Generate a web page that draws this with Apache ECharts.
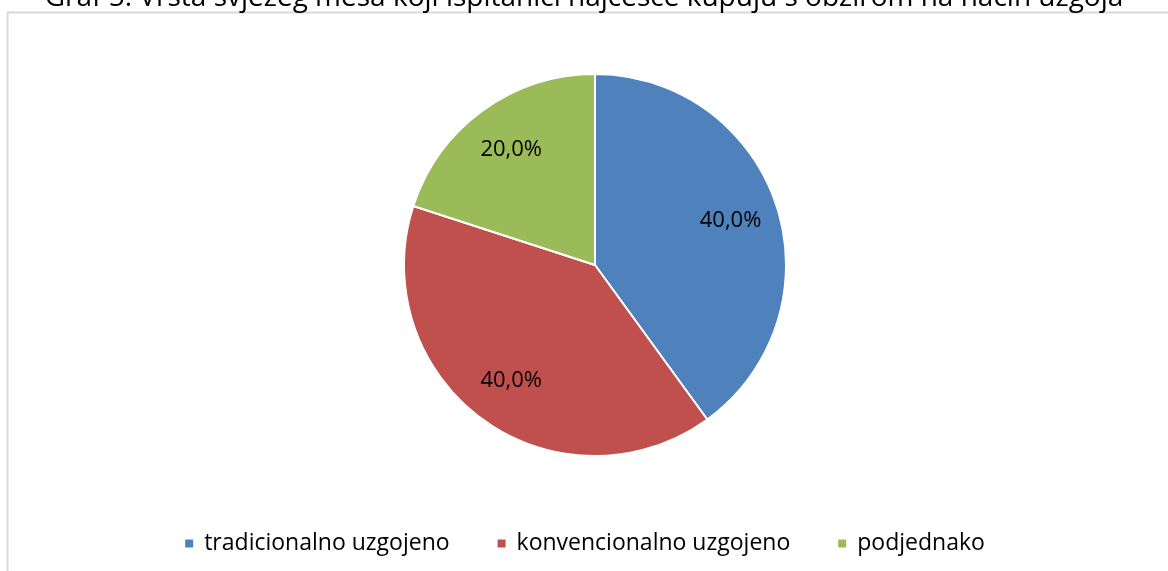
<!DOCTYPE html>
<html>
<head>
<meta charset="utf-8">
<title>Graf 5</title>
<script src="https://cdn.jsdelivr.net/npm/echarts@6/dist/echarts.min.js"></script>
<style>
  html, body { margin: 0; padding: 0; background: #fff; }
  #chart { width: 1168px; height: 571px; }
</style>
</head>
<body>
<div id="chart"></div>
<script>
// data
var categories = ['tradicionalno uzgojeno', 'konvencionalno uzgojeno', 'podjednako'];
var shares = [40.0, 40.0, 20.0];
var colors = ['#4f81bd', '#c0504d', '#9bbb59'];

var font = '"Open Sans", "DejaVu Sans", sans-serif';

var pieData = categories.map(function (name, i) {
  return { name: name, value: shares[i], itemStyle: { color: colors[i] } };
});

var chart = echarts.init(document.getElementById('chart'));
chart.setOption({
  animation: false,
  title: {
    text: 'Graf 5. Vrsta svježeg mesa koji ispitanici najčešće kupuju s obzirom na način uzgoja',
    left: 'center',
    top: -21,
    textStyle: { fontFamily: font, fontSize: 28, fontWeight: 'normal', color: '#000' }
  },
  graphic: [{
    type: 'rect',
    shape: { x: 7.5, y: 12.5, width: 1200, height: 600 },
    style: { fill: 'none', stroke: '#d9d9d9', lineWidth: 2 },
    silent: true
  }],
  legend: {
    bottom: 11,
    left: 'center',
    itemWidth: 10,
    itemHeight: 10,
    itemGap: 46,
    icon: 'rect',
    textStyle: { fontFamily: font, fontSize: 23, color: '#000', padding: [0, 0, 0, 5] },
    data: categories.map(function (name, i) {
      return { name: name, itemStyle: { color: colors[i] } };
    })
  },
  series: [
    {
      type: 'pie',
      center: [595, 265],
      radius: [0, 191],
      startAngle: 90,
      clockwise: true,
      data: pieData,
      label: { show: false },
      labelLine: { show: false },
      itemStyle: { borderColor: '#fff', borderWidth: 2 },
      emphasis: { disabled: true }
    },
    {
      // transparent ring that only carries the labels at ~3/4 radius
      type: 'pie',
      center: [595, 265],
      radius: [88, 191],
      startAngle: 90,
      clockwise: true,
      silent: true,
      data: categories.map(function (name, i) {
        return { name: name, value: shares[i] };
      }),
      itemStyle: { color: 'rgba(0,0,0,0)' },
      label: {
        show: true,
        position: 'inside',
        fontFamily: font,
        fontSize: 22,
        color: '#000',
        formatter: function (p) { return p.value.toFixed(1).replace('.', ',') + '%'; }
      },
      labelLine: { show: false },
      emphasis: { disabled: true }
    }
  ]
});
</script>
</body>
</html>
